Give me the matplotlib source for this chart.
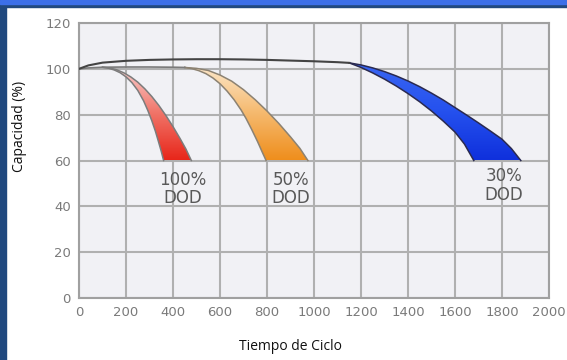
import numpy as np
import matplotlib
matplotlib.use('Agg')
import matplotlib.pyplot as plt
from matplotlib.patches import Polygon, Rectangle
from matplotlib.colors import LinearSegmentedColormap

# capacity envelope shared by all curves before they split
top_cycles = [0, 40, 100, 200, 300, 400, 500, 600, 700, 800, 900, 1000, 1100, 1150]
top_capacity = [100, 101.5, 102.7, 103.5, 103.9, 104.1, 104.2, 104.2, 104.1, 103.9, 103.6, 103.3, 102.9, 102.6]
low_cycles = [0, 40, 100, 200, 300, 400, 450]
low_capacity = [100, 100.4, 100.7, 100.8, 100.8, 100.7, 100.6]

# 100% DOD band
red_outer_x = [100, 130, 160, 190, 220, 250, 280, 310, 340, 370, 400, 430, 455, 478]
red_outer_y = [100.7, 100.4, 99.6, 98.3, 96.5, 94.2, 91.3, 87.9, 84.0, 79.6, 74.8, 69.6, 65.0, 60]
red_inner_x = [100, 125, 150, 175, 200, 225, 250, 275, 293, 310, 325, 338, 350, 360]
red_inner_y = [100.7, 100.3, 99.5, 98.3, 96.5, 94.0, 90.6, 86.0, 81.8, 77.3, 72.8, 68.3, 64.0, 60]

# 50% DOD band
orange_outer_x = [450, 500, 550, 600, 650, 700, 750, 800, 850, 900, 940, 974]
orange_outer_y = [100.6, 100.2, 99.3, 97.3, 94.6, 90.9, 86.5, 81.6, 76.2, 70.3, 65.3, 60]
orange_inner_x = [450, 480, 510, 540, 570, 600, 630, 660, 690, 711, 735, 760, 780, 796]
orange_inner_y = [100.6, 100.1, 99.2, 97.9, 96.0, 93.5, 90.3, 86.5, 82.0, 78.3, 73.5, 68.2, 63.6, 60]

# 30% DOD band
blue_outer_x = [1150, 1200, 1250, 1300, 1350, 1400, 1450, 1500, 1550, 1600, 1650, 1700, 1750, 1800, 1840, 1880]
blue_outer_y = [102.6, 101.7, 100.4, 98.8, 96.9, 94.7, 92.2, 89.4, 86.4, 83.1, 79.8, 76.4, 72.9, 69.3, 65.2, 60]
blue_inner_x = [1150, 1200, 1250, 1300, 1350, 1400, 1450, 1500, 1550, 1600, 1640, 1680]
blue_inner_y = [102.6, 100.6, 98.2, 95.5, 92.5, 89.2, 85.6, 81.6, 77.2, 72.4, 67.2, 60]

band_labels = ['100%\nDOD', '50%\nDOD', '30%\nDOD']
label_x = [440, 902, 1808]
label_y = [47.5, 47.5, 49]

x_ticks = list(range(0, 2001, 200))
y_ticks = list(range(0, 121, 20))


def gradient_band(ax, ox, oy, ix, iy, colors, edge):
    pts = np.column_stack([list(ox) + list(ix)[::-1], list(oy) + list(iy)[::-1]])
    poly = Polygon(pts, closed=True, facecolor='none', edgecolor='none', zorder=2)
    ax.add_patch(poly)
    cmap = LinearSegmentedColormap.from_list('band', colors)
    grad = np.linspace(0, 1, 256).reshape(-1, 1)
    im = ax.imshow(grad, extent=[pts[:, 0].min(), pts[:, 0].max(), pts[:, 1].min(), pts[:, 1].max()],
                   origin='lower', cmap=cmap, aspect='auto', zorder=2)
    im.set_clip_path(poly)
    ax.plot(ox, oy, color=edge, lw=1.1, zorder=3)
    ax.plot(ix, iy, color=edge, lw=1.1, zorder=3)


fig = plt.figure(figsize=(5.67, 3.6), dpi=100)
ax = fig.add_axes([79 / 567, 62 / 360, 470 / 567, 275 / 360])
ax.set_facecolor('#f1f1f5')

gradient_band(ax, red_outer_x, red_outer_y, red_inner_x, red_inner_y,
              ['#e8261a', '#f07468', '#f9d0d0'], '#7c7c7c')
gradient_band(ax, orange_outer_x, orange_outer_y, orange_inner_x, orange_inner_y,
              ['#ef8e1c', '#f5b96e', '#fce6c8'], '#8c8272')
gradient_band(ax, blue_outer_x, blue_outer_y, blue_inner_x, blue_inner_y,
              ['#0f30dc', '#2551ee', '#3a66f2'], '#2a2a50')

ax.plot(low_cycles, low_capacity, color='#7a7a7a', lw=1.2, zorder=3)
ax.plot(top_cycles, top_capacity, color='#444444', lw=1.5, zorder=4)

for lab, lx, ly in zip(band_labels, label_x, label_y):
    ax.text(lx, ly, lab, ha='center', va='center', fontsize=12, color='#595959',
            family='DejaVu Sans', linespacing=1.05, zorder=5)

ax.set_xlim(0, 2000)
ax.set_ylim(0, 120)
ax.set_xticks(x_ticks)
ax.set_yticks(y_ticks)
ax.tick_params(length=0, labelsize=9.5, labelcolor='#7a7a7a', pad=6)
ax.grid(True, color='#b0b0b0', lw=1.5)
ax.set_axisbelow(True)
for s in ax.spines.values():
    s.set_color('#a0a0a0')
    s.set_linewidth(1.5)

fig.text(290 / 567, 1 - 347 / 360, 'Tiempo de Ciclo', ha='center', va='center',
         fontsize=10, family='Open Sans', color='#111111')
fig.text(20 / 567, 1 - 126 / 360, 'Capacidad (%)', ha='center', va='center', rotation=90,
         fontsize=10, family='Open Sans', color='#111111')

# blue frame on the left and top
fig.patches.append(Rectangle((0, 0), 6 / 567, 1, transform=fig.transFigure, color='#21497f', zorder=10))
fig.patches.append(Rectangle((0, 1 - 7 / 360), 1, 7 / 360, transform=fig.transFigure, color='#21497f', zorder=10))
fig.patches.append(Rectangle((0, 1 - 3.5 / 360), 1, 3.5 / 360, transform=fig.transFigure, color='#3c6fe8', zorder=11))

fig.savefig('out.png', dpi=100)
